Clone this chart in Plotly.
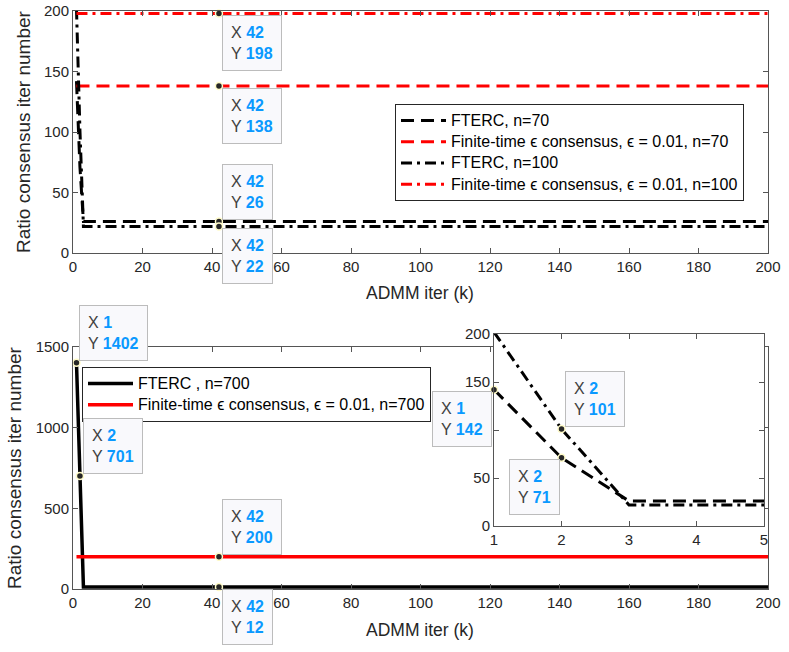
import plotly.graph_objects as go

# ---------------- data ----------------
k_steps = [1, 2, 3, 200]          # ADMM iterations where FTERC value changes
fterc_n70 = [142, 71, 26, 26]
fterc_n100 = [202, 101, 22, 22]
fterc_n700 = [1402, 701, 12, 12]

eps_k = [1, 200]
eps_n70 = [138, 138]
eps_n100 = [198, 198]
eps_n700 = [200, 200]

top_xticks = [0, 20, 40, 60, 80, 100, 120, 140, 160, 180, 200]
top_yticks = [0, 50, 100, 150, 200]
bot_yticks = [0, 500, 1000, 1500]
inset_xticks = [1, 2, 3, 4, 5]
inset_yticks = [0, 50, 100, 150, 200]

# data tips: (axis suffix, x, y, placement)
tips = [
    ("", 42, 198, "br"),
    ("", 42, 138, "br"),
    ("", 42, 26, "ar"),
    ("", 42, 22, "br"),
    ("2", 1, 1402, "ar"),
    ("2", 2, 701, "ar"),
    ("2", 42, 200, "ar"),
    ("2", 42, 12, "br"),
    ("3", 1, 202, "ar"),
    ("3", 1, 142, "bl"),
    ("3", 2, 101, "ar"),
    ("3", 2, 71, "bl"),
]

W, H = 789, 652
FONT = "Liberation Sans, Arial, Helvetica, sans-serif"
AX = "#262626"
BLUE = "#0a99ff"
DASH = "13px,7px"
DASHDOT = "11px,5px,3px,5px"


def px_x(p):
    return p / W


def px_y(p):
    return (H - p) / H


def leg(s):
    return f"<span style='font-size:16px'>{s}</span>"


fig = go.Figure()

# ---- top panel ----
fig.add_trace(go.Scatter(x=k_steps, y=fterc_n70, mode="lines", name=leg("FTERC, n=70"),
                         line=dict(color="black", width=3, dash=DASH),
                         xaxis="x", yaxis="y", legend="legend"))
fig.add_trace(go.Scatter(x=eps_k, y=eps_n70, mode="lines",
                         name=leg("Finite-time ϵ consensus, ϵ = 0.01, n=70"),
                         line=dict(color="#ff0000", width=3, dash=DASH),
                         xaxis="x", yaxis="y", legend="legend"))
fig.add_trace(go.Scatter(x=k_steps, y=fterc_n100, mode="lines", name=leg("FTERC, n=100"),
                         line=dict(color="black", width=3, dash=DASHDOT),
                         xaxis="x", yaxis="y", legend="legend"))
fig.add_trace(go.Scatter(x=eps_k, y=eps_n100, mode="lines",
                         name=leg("Finite-time ϵ consensus, ϵ = 0.01, n=100"),
                         line=dict(color="#ff0000", width=3, dash=DASHDOT),
                         xaxis="x", yaxis="y", legend="legend"))

# ---- bottom panel ----
fig.add_trace(go.Scatter(x=k_steps, y=fterc_n700, mode="lines", name=leg("FTERC , n=700"),
                         line=dict(color="black", width=3.5),
                         xaxis="x2", yaxis="y2", legend="legend2"))
fig.add_trace(go.Scatter(x=eps_k, y=eps_n700, mode="lines",
                         name=leg("Finite-time ϵ consensus, ϵ = 0.01, n=700"),
                         line=dict(color="#ff0000", width=3.5),
                         xaxis="x2", yaxis="y2", legend="legend2"))

# ---- inset ----
fig.add_trace(go.Scatter(x=k_steps, y=fterc_n70, mode="lines", showlegend=False,
                         line=dict(color="black", width=3, dash=DASH),
                         xaxis="x3", yaxis="y3"))
fig.add_trace(go.Scatter(x=k_steps, y=fterc_n100, mode="lines", showlegend=False,
                         line=dict(color="black", width=3, dash=DASHDOT),
                         xaxis="x3", yaxis="y3"))

# axis titles
annotations = [
    dict(text="Ratio consensus iter number", x=px_x(23), y=px_y(132), xref="paper", yref="paper",
         xanchor="center", yanchor="middle",
         textangle=-90, showarrow=False, font=dict(family=FONT, size=19, color=AX)),
    dict(text="Ratio consensus iter number", x=px_x(14), y=px_y(468), xref="paper", yref="paper",
         xanchor="center", yanchor="middle",
         textangle=-90, showarrow=False, font=dict(family=FONT, size=19, color=AX)),
    dict(text="ADMM iter (k)", x=px_x(420), y=px_y(293), xref="paper", yref="paper",
         xanchor="center", yanchor="middle",
         showarrow=False, font=dict(family=FONT, size=17.5, color=AX)),
    dict(text="ADMM iter (k)", x=px_x(420), y=px_y(630), xref="paper", yref="paper",
         xanchor="center", yanchor="middle",
         showarrow=False, font=dict(family=FONT, size=17.5, color=AX)),
]

# ---- data tip markers and boxes ----
for ax, tx, ty, place in tips:
    fig.add_trace(go.Scatter(x=[tx], y=[ty], mode="markers", showlegend=False,
                             cliponaxis=False,
                             marker=dict(color="#262626", size=7,
                                         line=dict(color="#fffbc8", width=1.5)),
                             xaxis="x" + ax, yaxis="y" + ax))
    if place == "br":
        xa, ya, xs, ys = "left", "top", 3, -2
    elif place == "ar":
        xa, ya, xs, ys = "left", "bottom", 3, 2
    else:
        xa, ya, xs, ys = "right", "top", -2, -1
    txt = (f"<span style='color:#404040'>X</span> <b><span style='color:{BLUE}'>{tx}</span></b><br>"
           f"<span style='color:#404040'>Y</span> <b><span style='color:{BLUE}'>{ty}</span></b>")
    annotations.append(dict(x=tx, y=ty, xref="x" + ax, yref="y" + ax, text=txt,
                            showarrow=False, xanchor=xa, yanchor=ya, xshift=xs, yshift=ys,
                            align="left", bgcolor="#f9f9fc", bordercolor="#bcbcbc",
                            borderwidth=1, borderpad=8,
                            font=dict(family=FONT, size=16, color="#404040")))

axis_common = dict(showgrid=False, zeroline=False, showline=True, linecolor="#555555",
                   linewidth=1, mirror="ticks", ticks="inside", ticklen=5,
                   tickcolor="#555555", automargin=False,
                   tickfont=dict(family=FONT, size=15, color=AX))

fig.update_layout(
    template="none",
    width=W, height=H, autosize=False,
    margin=dict(l=0, r=0, t=0, b=0, pad=0),
    paper_bgcolor="white", plot_bgcolor="white",
    font=dict(family=FONT, color=AX),
    xaxis=dict(domain=[px_x(73), px_x(768)], range=[0, 200], tickvals=top_xticks,
               anchor="y", **axis_common),
    yaxis=dict(domain=[px_y(253), px_y(11)], range=[0, 200], tickvals=top_yticks,
               anchor="x", **axis_common),
    xaxis2=dict(domain=[px_x(73), px_x(768)], range=[0, 200], tickvals=top_xticks,
                anchor="y2", **axis_common),
    yaxis2=dict(domain=[px_y(589), px_y(347)], range=[0, 1500], tickvals=bot_yticks,
                anchor="x2", **axis_common),
    xaxis3=dict(domain=[px_x(494), px_x(764)], range=[1, 5], tickvals=inset_xticks,
                anchor="y3", **axis_common),
    yaxis3=dict(domain=[px_y(526), px_y(334)], range=[0, 200], tickvals=inset_yticks,
                anchor="x3", **axis_common),
    legend=dict(x=px_x(395), y=px_y(104), xanchor="left", yanchor="top",
                bgcolor="white", bordercolor=AX, borderwidth=1,
                font=dict(family=FONT, size=14, color="black"), itemwidth=45,
                tracegroupgap=0),
    legend2=dict(x=px_x(82), y=px_y(367), xanchor="left", yanchor="top",
                 bgcolor="white", bordercolor=AX, borderwidth=1,
                 font=dict(family=FONT, size=14, color="black"), itemwidth=45,
                 tracegroupgap=0),
    annotations=annotations,
)

fig.write_html(
    "out.html",
    config={"displayModeBar": False},
    post_script="document.body.style.margin='0';document.body.style.padding='0';"
                "document.documentElement.style.overflow='hidden';",
)
